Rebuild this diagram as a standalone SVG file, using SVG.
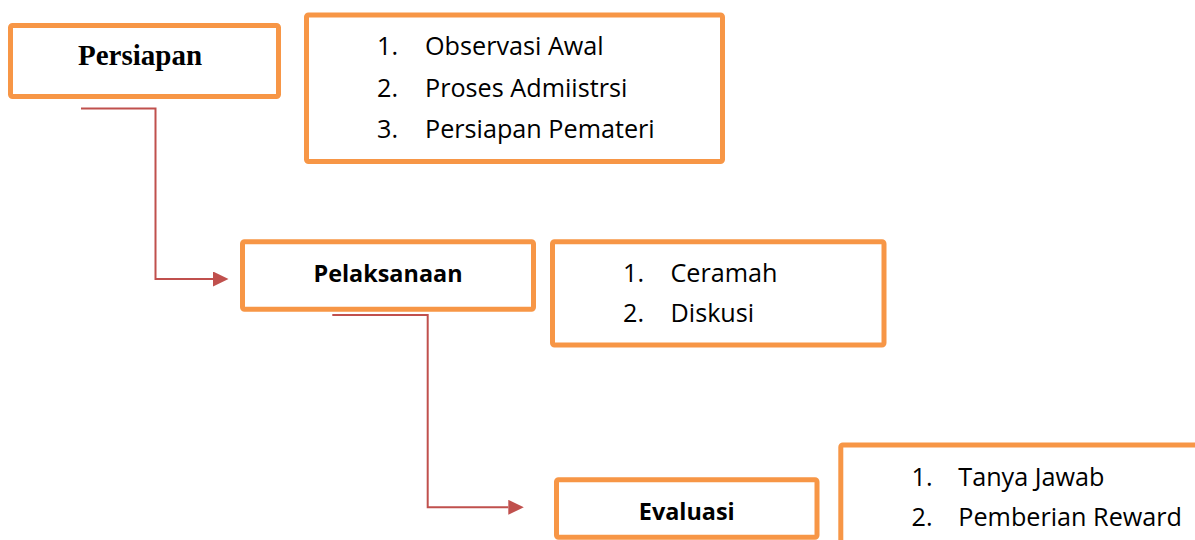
<svg xmlns="http://www.w3.org/2000/svg" width="1195" height="540" viewBox="0 0 1195 540">
<style>
.box{fill:#fff;stroke:#F79646;stroke-width:5}
.t{font-family:"Open Sans","Noto Sans",sans-serif;font-size:25.2px;fill:#000}
.b{font-family:"Open Sans","Noto Sans",sans-serif;font-size:23.4px;font-weight:bold;fill:#000;text-anchor:middle}
.s{font-family:"Liberation Serif","Times New Roman",serif;font-size:29px;font-weight:bold;fill:#000;text-anchor:middle}
.c{fill:none;stroke:#C0504D;stroke-width:2}
</style>
<defs>
<marker id="arr" markerUnits="userSpaceOnUse" markerWidth="16" markerHeight="16" refX="0" refY="7.5" orient="auto">
<path d="M0,0 L15.5,7.5 L0,15 z" fill="#C0504D"/>
</marker>
</defs>
<rect width="1195" height="540" fill="#fff"/>
<g id="persiapan">
<rect class="box" x="10.5" y="25.5" width="268" height="71" rx="2"/>
<text class="s" x="140" y="65">Persiapan</text>
</g>
<g id="persiapan-list">
<rect class="box" x="306.5" y="15" width="416" height="146.5" rx="2"/>
<text class="t" x="377" y="55">1.</text><text class="t" x="425" y="55">Observasi Awal</text>
<text class="t" x="377" y="96.5">2.</text><text class="t" x="425" y="96.5">Proses Admiistrsi</text>
<text class="t" x="377" y="137.5">3.</text><text class="t" x="425" y="137.5">Persiapan Pemateri</text>
</g>
<g id="pelaksanaan">
<rect class="box" x="242.5" y="241.8" width="291" height="67.4" rx="2"/>
<text class="b" x="388" y="282">Pelaksanaan</text>
</g>
<g id="pelaksanaan-list">
<rect class="box" x="552.5" y="241.8" width="331.5" height="103.2" rx="2"/>
<text class="t" x="623" y="281.5">1.</text><text class="t" x="670.5" y="281.5">Ceramah</text>
<text class="t" x="623" y="321.5">2.</text><text class="t" x="670.5" y="321.5">Diskusi</text>
</g>
<g id="evaluasi">
<rect class="box" x="556.5" y="479.8" width="260.5" height="57.5" rx="2"/>
<text class="b" x="686.8" y="520">Evaluasi</text>
</g>
<g id="evaluasi-list">
<rect class="box" x="840.8" y="445" width="370" height="120" rx="2"/>
<text class="t" x="911.5" y="486">1.</text><text class="t" x="958.3" y="486">Tanya Jawab</text>
<text class="t" x="911.5" y="526">2.</text><text class="t" x="958.3" y="526">Pemberian Reward</text>
</g>
<g id="connectors">
<path class="c" d="M81,108.5 H155.5 V279 H213" marker-end="url(#arr)"/>
<path class="c" d="M332.3,315 H427.7 V507.3 H508.3" marker-end="url(#arr)"/>
</g>
</svg>
